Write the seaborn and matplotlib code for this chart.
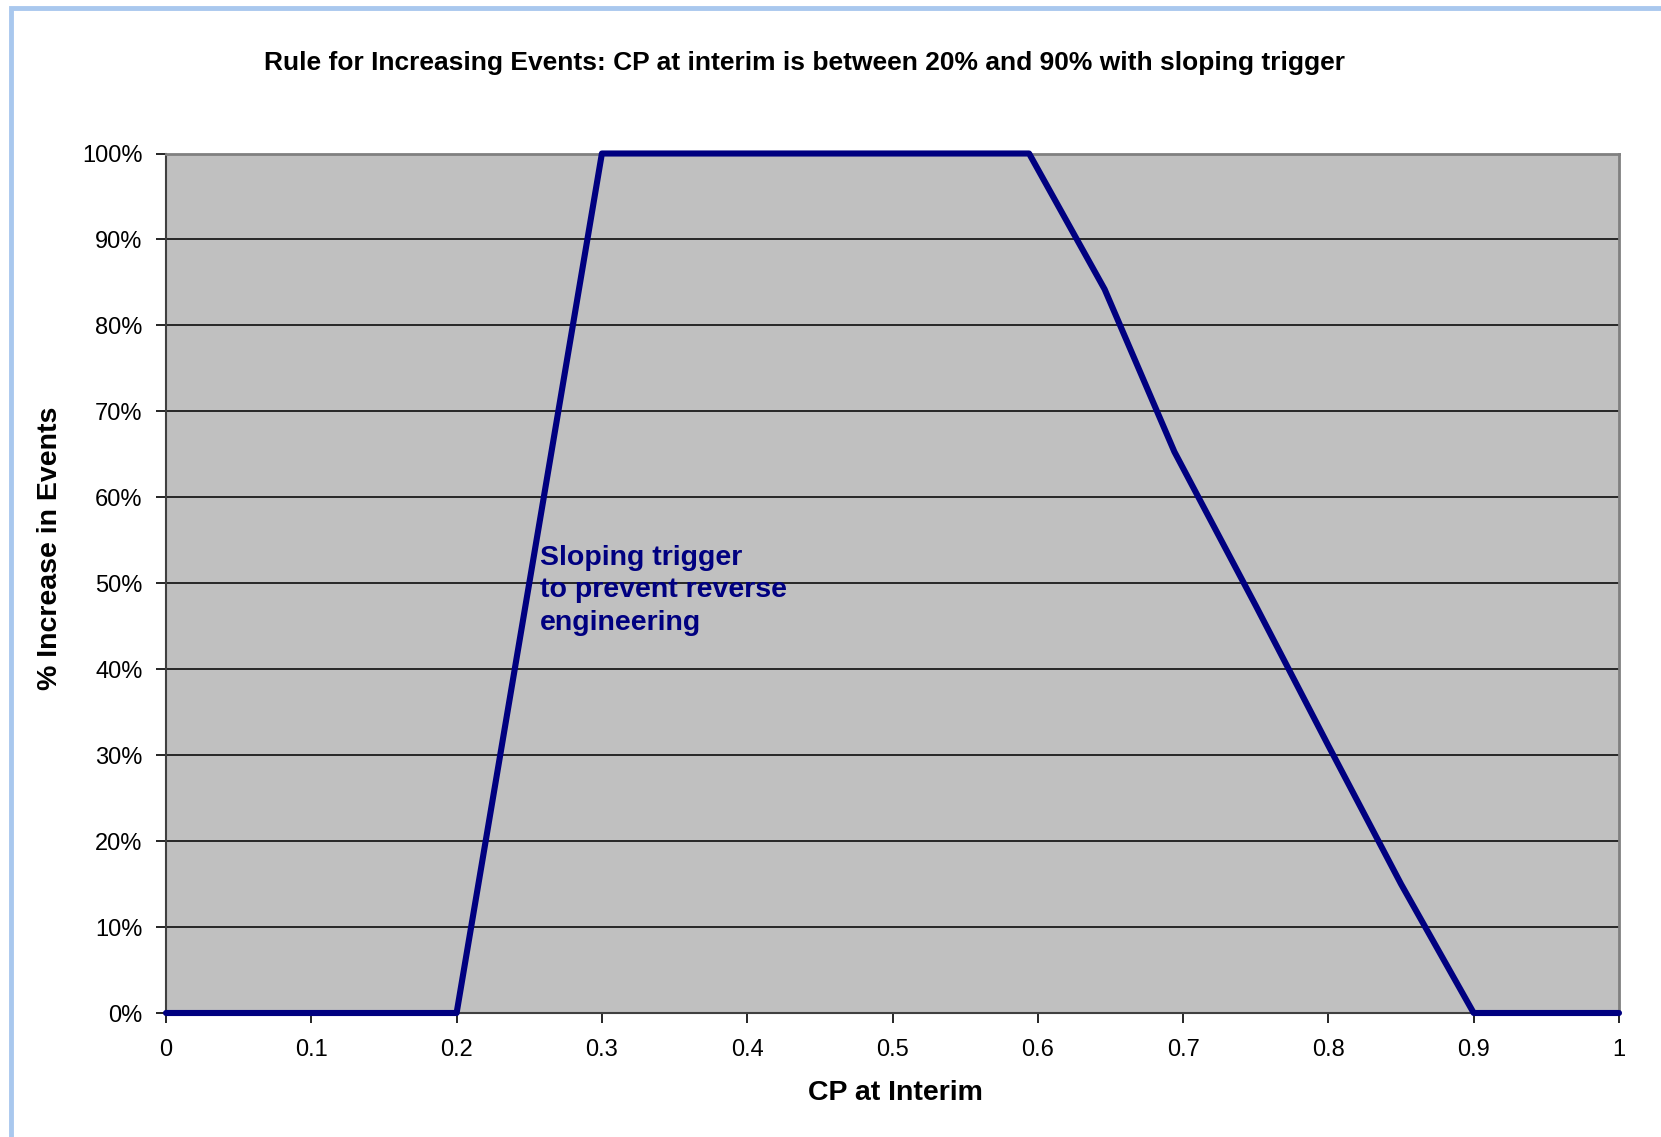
import matplotlib
matplotlib.use("Agg")
import matplotlib.pyplot as plt
import seaborn as sns
import pandas as pd
from matplotlib.patches import Rectangle

# ---- data ----
cp_at_interim = [0.0, 0.2, 0.3, 0.594, 0.646, 0.694, 0.75, 0.8, 0.85, 0.9, 1.0]
pct_increase = [0.0, 0.0, 1.0, 1.0, 0.842, 0.653, 0.474, 0.311, 0.150, 0.0, 0.0]
x_ticks = [0, 0.1, 0.2, 0.3, 0.4, 0.5, 0.6, 0.7, 0.8, 0.9, 1.0]
x_tick_labels = ["0", "0.1", "0.2", "0.3", "0.4", "0.5", "0.6", "0.7", "0.8", "0.9", "1"]
y_ticks = [0, 0.1, 0.2, 0.3, 0.4, 0.5, 0.6, 0.7, 0.8, 0.9, 1.0]
y_tick_labels = ["0%", "10%", "20%", "30%", "40%", "50%", "60%", "70%", "80%", "90%", "100%"]

title = "Rule for Increasing Events: CP at interim is between 20% and 90% with sloping trigger"
xlabel = "CP at Interim"
ylabel = "% Increase in Events"
note = "Sloping trigger\nto prevent reverse\nengineering"

df = pd.DataFrame({"cp": cp_at_interim, "inc": pct_increase})

sns.set_theme(style="white")
plt.rcParams["font.family"] = ["Liberation Sans", "DejaVu Sans"]

fig = plt.figure(figsize=(16.61, 11.37), dpi=100)
fig.patch.set_facecolor("white")

# light blue frame on left/top
fig.patches.append(Rectangle((10.5 / 1661, -0.05), 1.2, 1.05 - 7.5 / 1137,
                             transform=fig.transFigure, fill=False,
                             edgecolor="#A9C8EE", linewidth=3.5, zorder=0))

ax = fig.add_axes([166 / 1661, (1137 - 1013) / 1137, (1619 - 166) / 1661, (1013 - 153.5) / 1137])
ax.set_facecolor("#C0C0C0")

for yv in y_ticks[1:-1]:
    ax.axhline(yv, color="#1a1a1a", linewidth=1.3, zorder=1)

sns.lineplot(data=df, x="cp", y="inc", ax=ax, sort=False, estimator=None,
             color="#000080", linewidth=4.4, zorder=3, clip_on=False)

ax.set_xlim(0, 1)
ax.set_ylim(0, 1)
ax.set_xticks(x_ticks)
ax.set_xticklabels(x_tick_labels)
ax.set_yticks(y_ticks)
ax.set_yticklabels(y_tick_labels)
ax.tick_params(axis="both", which="major", labelsize=17, colors="black",
               direction="out", length=7, width=1.2, bottom=True, left=True)
for t in ax.get_xticklines() + ax.get_yticklines():
    t.set_color("#404040")
ax.tick_params(axis="x", pad=12)
ax.tick_params(axis="y", pad=10)

ax.spines["left"].set_color("#404040")
ax.spines["left"].set_linewidth(1.5)
ax.spines["bottom"].set_color("#404040")
ax.spines["bottom"].set_linewidth(1.5)
ax.spines["top"].set_color("#808080")
ax.spines["top"].set_linewidth(2)
ax.spines["right"].set_color("#808080")
ax.spines["right"].set_linewidth(2)

ax.set_xlabel("")
ax.set_ylabel("")

ax.text(0.2574, 0.545, note, transform=ax.transData, ha="left", va="top",
        fontsize=20.5, fontweight="bold", color="#000080", linespacing=1.34, zorder=4)

fig.text(805 / 1661, 1 - 63 / 1137, title, ha="center", va="center",
         fontsize=19, fontweight="bold", color="black")
fig.text(895 / 1661, 1 - 1093 / 1137, xlabel, ha="center", va="center",
         fontsize=20.5, fontweight="bold", color="black")
fig.text(50 / 1661, 1 - 548 / 1137, ylabel, ha="center", va="center",
         rotation=90, fontsize=20.5, fontweight="bold", color="black")

fig.savefig("out.png", dpi=100, facecolor="white")
